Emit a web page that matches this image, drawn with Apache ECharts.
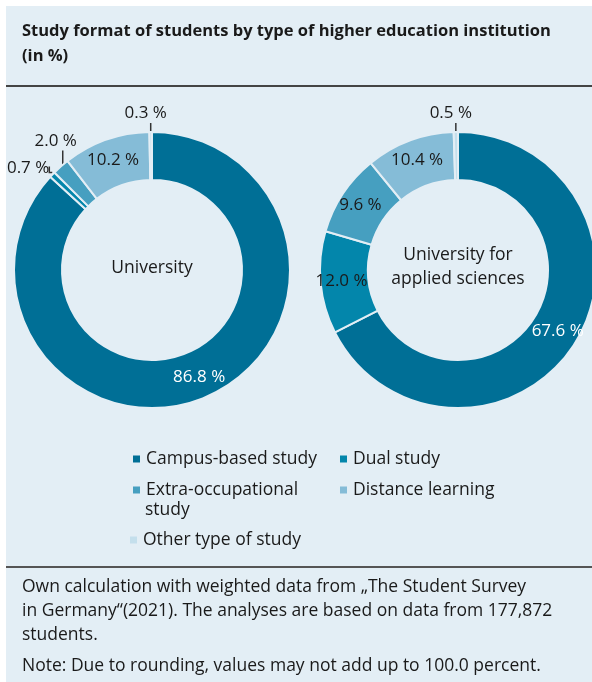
<!DOCTYPE html>
<html>
<head>
<meta charset="utf-8">
<script src="https://cdn.jsdelivr.net/npm/echarts@6/dist/echarts.min.js"></script>
<style>
  html, body { margin: 0; padding: 0; background: #fff; }
  #chart { width: 592px; height: 682px; }
</style>
</head>
<body>
<div id="chart"></div>
<script>
var categories = ["Campus-based study", "Dual study", "Extra-occupational study", "Distance learning", "Other type of study"];
var universityValues = [86.8, 0.7, 2.0, 10.2, 0.3];
var appliedValues = [67.6, 12.0, 9.6, 10.4, 0.5];
var institutions = ["University", "University for\napplied sciences"];

var colors = ["#006f96", "#0386ab", "#469fc0", "#85bcd7", "#c4dfec"];
var bg = "#e3eef5";
var font = "'Open Sans', 'Noto Sans', sans-serif";
var txt = "#1a1a1a";

var chart = echarts.init(document.getElementById("chart"));

// which labels go outside the ring (small slices)
function buildData(values, outside) {
  return values.map(function (v, i) {
    var item = { name: categories[i], value: v };
    if (i === 0) {
      item.label = { position: "inside", color: "#fff" };
    } else if (outside.indexOf(i) >= 0) {
      item.label = { position: "outside", color: txt };
      item.labelLine = { show: true };
    } else {
      item.label = { position: "inside", color: txt };
    }
    return item;
  });
}

// small slice labels: short vertical line with text above, or text to the left
function layoutLabel(p) {
  var pts = p.labelLinePoints;
  if (!pts) return;
  var s = pts[0];
  var idx = p.dataIndex;
  if (idx === 1) {
    return {
      x: s[0] - 3, y: s[1] - 6, align: "right", verticalAlign: "middle",
      labelLinePoints: [[s[0], s[1] - 2], [s[0] - 3, s[1] - 2], [s[0] - 3, s[1] - 8]]
    };
  }
  var h = idx === 2 ? 16 : 9;
  var lx = s[0] + (idx === 2 ? 2 : 0);
  return {
    x: s[0] - 5, y: s[1] - h - 1, align: "center", verticalAlign: "bottom",
    labelLinePoints: [[lx, s[1]], [lx, s[1] - h]]
  };
}

function pieSeries(name, values, center, outside) {
  return {
    name: name,
    type: "pie",
    center: center,
    radius: [90, 138],
    startAngle: 90,
    clockwise: true,
    avoidLabelOverlap: false,
    itemStyle: { borderColor: bg, borderWidth: 2 },
    label: {
      fontFamily: font,
      fontSize: 17,
      formatter: function (p) { return p.value.toFixed(1) + " %"; }
    },
    labelLine: { show: false, length: 6, length2: 0, lineStyle: { color: "#333", width: 1.5 } },
    labelLayout: layoutLabel,
    emphasis: { disabled: true },
    data: buildData(values, outside)
  };
}

function legendAt(name, left, top, label) {
  var l = {
    data: [name],
    left: left,
    top: top,
    padding: 0,
    icon: "rect",
    itemWidth: 9,
    itemHeight: 9,
    itemGap: 6,
    selectedMode: false,
    textStyle: { fontFamily: font, fontSize: 17.5, color: txt, lineHeight: 24 }
  };
  if (label) {
    l.formatter = function () { return label; };
  }
  return l;
}

var option = {
  backgroundColor: "#fff",
  color: colors,
  animation: false,
  legend: [
    legendAt(categories[0], 131, 447),
    legendAt(categories[1], 338, 447),
    legendAt(categories[2], 131, 478, "Extra-occupational"),
    legendAt(categories[3], 338, 478),
    legendAt(categories[4], 128, 528)
  ],
  graphic: [
    { type: "rect", z: -10, shape: { x: 6, y: 6, width: 600, height: 690 }, style: { fill: bg } },
    { type: "rect", shape: { x: 6, y: 85, width: 600, height: 2 }, style: { fill: "#444" } },
    { type: "rect", shape: { x: 6, y: 566, width: 600, height: 2 }, style: { fill: "#555" } },
    {
      type: "text", x: 22, y: 19,
      style: {
        text: "Study format of students by type of higher education institution\n(in %)",
        font: "bold 16.5px " + font, fill: txt, lineHeight: 25
      }
    },
    {
      type: "text", x: 145, y: 510,
      style: { text: "study", font: "17.5px " + font, fill: txt, verticalAlign: "middle" }
    },
    {
      type: "text", x: 152, y: 268,
      style: { text: institutions[0], font: "17.5px " + font, fill: txt, align: "center", verticalAlign: "middle" }
    },
    {
      type: "text", x: 458, y: 267,
      style: { text: institutions[1], font: "17.5px " + font, fill: txt, align: "center", verticalAlign: "middle", lineHeight: 24 }
    },
    {
      type: "text", x: 22, y: 575,
      style: {
        text: "Own calculation with weighted data from \u201EThe Student Survey\nin Germany\u201C(2021). The analyses are based on data from 177,872\nstudents.",
        font: "17.5px " + font, fill: txt, lineHeight: 24
      }
    },
    {
      type: "text", x: 22, y: 654,
      style: {
        text: "Note: Due to rounding, values may not add up to 100.0 percent.",
        font: "17.5px " + font, fill: txt, lineHeight: 24
      }
    }
  ],
  series: [
    pieSeries("University", universityValues, [152, 270], [1, 2, 4]),
    pieSeries("University for applied sciences", appliedValues, [458, 270], [4])
  ]
};

chart.setOption(option);
</script>
</body>
</html>
